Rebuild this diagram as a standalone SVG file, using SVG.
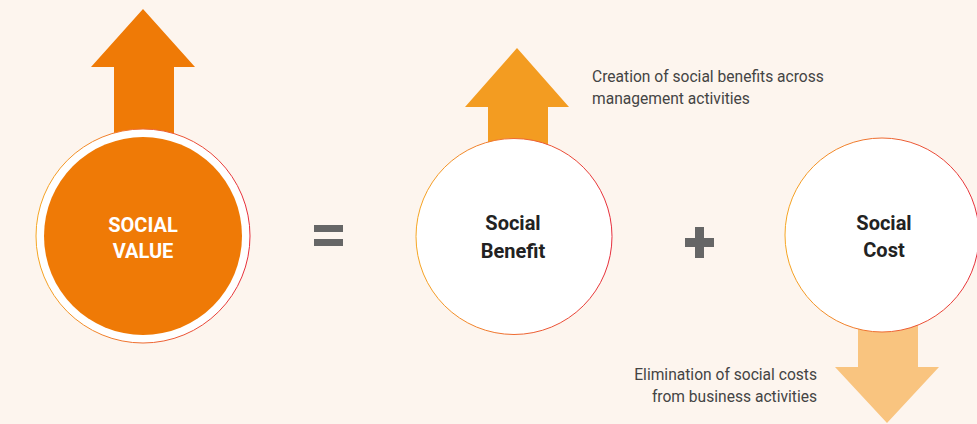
<svg xmlns="http://www.w3.org/2000/svg" width="977" height="424" viewBox="0 0 977 424">
<defs>
<linearGradient id="ring" x1="0" y1="0" x2="1" y2="0">
<stop offset="0" stop-color="#F5A623"/>
<stop offset="1" stop-color="#E62E3C"/>
</linearGradient>
<style>
.lbl{font-family:Roboto,"Noto Sans",sans-serif;font-weight:bold;font-size:20px;text-anchor:middle}
.note{font-family:Roboto,"Noto Sans",sans-serif;font-size:15.6px;fill:#444}
.op{fill:#666}
</style>
</defs>
<rect width="977" height="424" fill="#FDF5EE"/>
<g id="social-value">
<polygon points="143,9 195,67 174,67 174,160 114,160 114,67 91,67" fill="#EF7A06"/>
<circle cx="143" cy="236" r="107" fill="#FFFFFF" stroke="url(#ring)" stroke-width="1"/>
<circle cx="143" cy="236" r="99" fill="#EF7A06"/>
<text class="lbl" x="143" y="232" fill="#FFFFFF">SOCIAL</text>
<text class="lbl" x="143" y="258" fill="#FFFFFF">VALUE</text>
</g>
<g id="equals">
<rect class="op" x="314" y="225" width="29" height="7"/>
<rect class="op" x="314" y="239" width="29" height="7"/>
</g>
<g id="social-benefit">
<polygon points="517,48 569,107 548,107 548,160 488,160 488,107 465,107" fill="#F39C21"/>
<circle cx="514" cy="236.5" r="98" fill="#FFFFFF" stroke="url(#ring)" stroke-width="1"/>
<text class="lbl" x="513" y="230" fill="#222">Social</text>
<text class="lbl" x="513" y="258" fill="#222">Benefit</text>
<text class="note" x="592" y="82">Creation of social benefits across</text>
<text class="note" x="592" y="104">management activities</text>
</g>
<g id="plus">
<rect class="op" x="685" y="238" width="29" height="9"/>
<rect class="op" x="695" y="227" width="9" height="31"/>
</g>
<g id="social-cost">
<polygon points="858,300 918,300 918,367 939,367 887,423 835,367 858,367" fill="#F9C47F"/>
<circle cx="882" cy="235" r="97" fill="#FFFFFF" stroke="url(#ring)" stroke-width="1"/>
<text class="lbl" x="884" y="230" fill="#222">Social</text>
<text class="lbl" x="884" y="257" fill="#222">Cost</text>
<text class="note" x="817" y="380" text-anchor="end">Elimination of social costs</text>
<text class="note" x="817" y="402" text-anchor="end">from business activities</text>
</g>
</svg>
